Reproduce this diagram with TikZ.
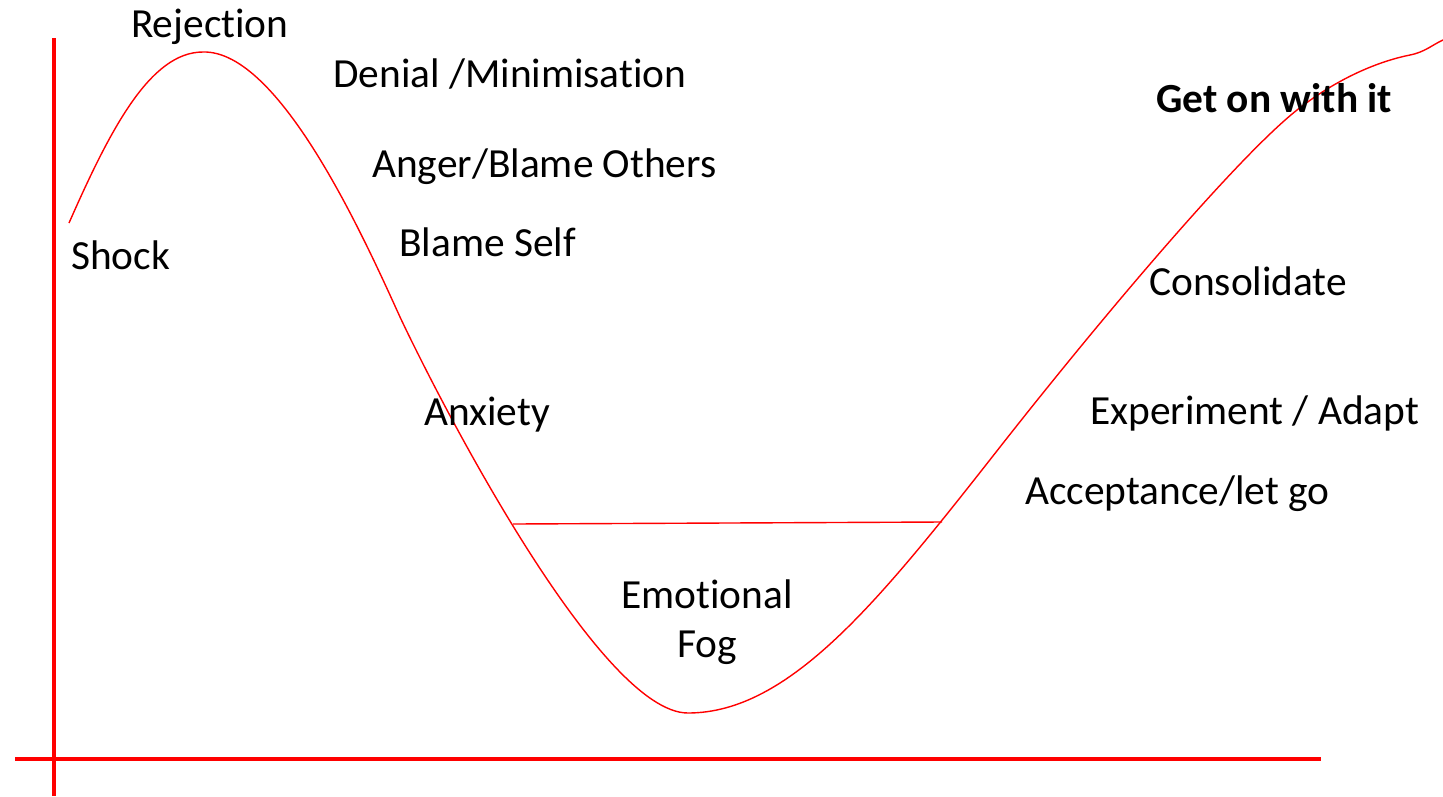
\documentclass[tikz,border=0pt]{standalone}
\usepackage{fontspec}
\setmainfont{Carlito}[Ligatures={NoCommon,NoRare}]
\begin{document}
\begin{tikzpicture}[x=1pt,y=-1pt,
  axis/.style={draw=red,line width=4pt},
  curveline/.style={draw=red,line width=1.4pt},
  lbl/.style={font=\fontsize{41.4}{49}\selectfont,inner sep=0pt,anchor=base west,text=black}]
\useasboundingbox (0,0) rectangle (1443,796);
% axes
\coordinate (ytop) at (54,38);
\coordinate (ybot) at (54,796);
\coordinate (xl) at (15,759);
\coordinate (xr) at (1321,759);
\draw[axis] (ytop) -- (ybot);
\draw[axis] (xl) -- (xr);
% curve
\coordinate (c0) at (69,223);
\coordinate (peak) at (203,52);
\coordinate (c1) at (400,317);
\coordinate (low) at (688,713);
\coordinate (c2) at (1000,447);
\coordinate (c3) at (1297,110);
\coordinate (c4) at (1410,55);
\coordinate (cend) at (1443,40);
\draw[curveline] (c0) .. controls (110,130) and (150,52) .. (peak)
  .. controls (280,50) and (365,240) .. (c1)
  .. controls (440,402) and (600,713) .. (low)
  .. controls (790,713) and (880,600) .. (c2)
  .. controls (1110,307) and (1240,155) .. (c3)
  .. controls (1343,74) and (1385,60) .. (c4)
  .. controls (1425,52) and (1432,45) .. (cend);
% fog line
\coordinate (fogl) at (513,524);
\coordinate (fogr) at (942,522);
\draw[curveline] (fogl) -- (fogr);
% labels
\node[lbl] (rej) at (131,37) {Rejection};
\node[lbl] (shock) at (71,269) {Shock};
\node[lbl] (den) at (333,87) {Denial /Minimisation};
\node[lbl] (anger) at (372,177) {Anger/Blame Others};
\node[lbl] (self) at (399,256) {Blame Self};
\node[lbl] (anx) at (424,425) {Anxiety};
\node[lbl,anchor=base,align=center] (fog) at (707,657) {Emotional\\Fog};
\node[lbl,font=\fontsize{41.4}{49}\selectfont\bfseries] (geton) at (1156,112) {Get on with it};
\node[lbl] (cons) at (1149,295) {Consolidate};
\node[lbl] (exp) at (1090,424) {Experiment / Adapt};
\node[lbl] (acc) at (1025,504) {Acceptance/let go};
\end{tikzpicture}
\end{document}
